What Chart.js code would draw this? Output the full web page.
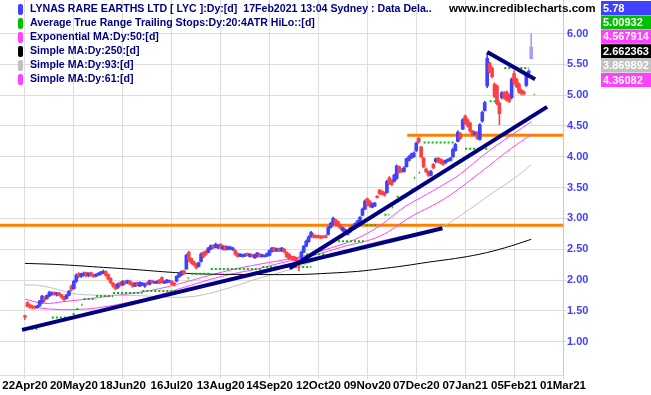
<!DOCTYPE html>
<html lang="en">

<head>
    <meta charset="UTF-8" />
    <script src="https://cdn.jsdelivr.net/npm/chart.js@4.4.0/dist/chart.umd.min.js"></script>
    <style>
        body { margin: 0; background: #fff; overflow: hidden; }
    </style>
</head>

<body>
    <canvas id="chart" width="651" height="395"></canvas>
    <script>
        // x axis: one step per trading day, day 0 = 22Apr20
        const tickIdx = [0, 20, 40, 60, 80, 100, 120, 140, 160, 180, 200, 220];
        const tickLabels = ['22Apr20', '20May20', '18Jun20', '16Jul20', '13Aug20', '14Sep20',
            '12Oct20', '09Nov20', '07Dec20', '07Jan21', '05Feb21', '01Mar21'];
        const yTicks = [1.0, 1.5, 2.0, 2.5, 3.0, 3.5, 4.0, 4.5, 5.0, 5.5, 6.0];

        // daily prices (LYC)
        const opens = [
            1.42, 1.63, 1.60, 1.58, 1.57, 1.55, 1.58, 1.64, 1.72, 1.70,
            1.74, 1.77, 1.80, 1.76, 1.79, 1.76, 1.73, 1.70, 1.75, 1.90,
            1.86, 1.98, 2.10, 2.06, 2.08, 2.12, 2.07, 2.12, 2.09, 2.06,
            2.08, 2.10, 2.11, 2.14, 2.09, 2.03, 1.95, 1.92, 1.88, 1.96,
            1.92, 1.98, 1.95, 1.98, 1.95, 1.90, 1.96, 1.90, 1.92, 1.90,
            1.96, 1.93, 1.99, 1.95, 1.95, 2.00, 2.04, 1.95, 1.96, 1.97,
            1.98, 1.95, 1.98, 2.05, 2.08, 2.15, 2.18, 2.45, 2.35, 2.30,
            2.26, 2.22, 2.30, 2.45, 2.47, 2.45, 2.50, 2.56, 2.53, 2.52,
            2.58, 2.50, 2.55, 2.50, 2.50, 2.49, 2.48, 2.43, 2.39, 2.38,
            2.39, 2.43, 2.38, 2.41, 2.36, 2.38, 2.42, 2.38, 2.38, 2.39,
            2.40, 2.46, 2.52, 2.47, 2.51, 2.47, 2.50, 2.45, 2.42, 2.38,
            2.38, 2.36, 2.30, 2.36, 2.45, 2.55, 2.62, 2.70, 2.73, 2.72,
            2.72, 2.71, 2.71, 2.72, 2.74, 2.85, 2.90, 2.98, 2.95, 2.90,
            2.80, 2.78, 2.74, 2.78, 2.84, 2.87, 2.90, 2.95, 3.05, 3.15,
            3.32, 3.28, 3.18, 3.20, 3.36, 3.46, 3.44, 3.42, 3.42, 3.66,
            3.62, 3.60, 3.65, 3.84, 3.80, 3.76, 3.84, 3.94, 3.98, 4.00,
            4.10, 4.30, 4.16, 3.98, 3.80, 3.76, 3.70, 3.88, 3.92, 3.98,
            3.96, 3.94, 3.90, 3.93, 3.94, 4.00, 4.10, 4.25, 4.38, 4.45,
            4.66, 4.60, 4.55, 4.42, 4.36, 4.40, 4.28, 4.58, 4.75, 5.15,
            5.52, 5.44, 5.18, 5.15, 4.87, 4.96, 5.04, 5.05, 5.00, 4.96,
            5.35, 5.26, 5.18, 5.08, 5.05, 5.16, 5.36, 5.59
        ];
        const highs = [
            1.43, 1.65, 1.61, 1.59, 1.58, 1.59, 1.67, 1.75, 1.73, 1.76,
            1.82, 1.81, 1.81, 1.80, 1.80, 1.77, 1.74, 1.77, 1.83, 1.92,
            2.00, 2.10, 2.12, 2.11, 2.13, 2.13, 2.12, 2.13, 2.10, 2.10,
            2.12, 2.14, 2.16, 2.15, 2.10, 2.04, 1.96, 1.93, 1.95, 1.97,
            1.99, 1.99, 2.00, 1.99, 1.96, 1.96, 1.97, 1.97, 1.96, 1.95,
            1.97, 2.00, 2.00, 1.98, 1.99, 2.01, 2.05, 1.99, 2.01, 2.00,
            1.99, 1.96, 2.07, 2.11, 2.15, 2.16, 2.42, 2.47, 2.36, 2.31,
            2.27, 2.29, 2.44, 2.46, 2.48, 2.53, 2.57, 2.57, 2.60, 2.58,
            2.59, 2.56, 2.56, 2.55, 2.55, 2.53, 2.49, 2.44, 2.43, 2.42,
            2.43, 2.44, 2.43, 2.42, 2.42, 2.45, 2.43, 2.42, 2.41, 2.44,
            2.49, 2.53, 2.53, 2.52, 2.52, 2.53, 2.51, 2.46, 2.43, 2.39,
            2.39, 2.37, 2.31, 2.47, 2.56, 2.65, 2.72, 2.79, 2.75, 2.73,
            2.73, 2.72, 2.72, 2.73, 2.87, 2.94, 3.02, 2.99, 2.96, 2.91,
            2.86, 2.83, 2.81, 2.86, 2.89, 2.93, 2.97, 3.03, 3.17, 3.30,
            3.33, 3.29, 3.25, 3.26, 3.37, 3.47, 3.45, 3.43, 3.62, 3.68,
            3.63, 3.72, 3.87, 3.85, 3.81, 3.84, 3.98, 4.02, 4.06, 4.08,
            4.24, 4.32, 4.17, 3.99, 3.82, 3.77, 3.78, 3.89, 3.98, 3.99,
            3.97, 3.95, 3.95, 3.97, 3.99, 4.14, 4.22, 4.42, 4.39, 4.62,
            4.68, 4.62, 4.56, 4.43, 4.41, 4.41, 4.54, 4.74, 4.90, 5.68,
            5.54, 5.46, 5.20, 5.17, 4.89, 5.06, 5.06, 5.07, 5.02, 5.28,
            5.40, 5.28, 5.20, 5.10, 5.07, 5.34, 5.41, 6.00
        ];
        const lows = [
            1.36, 1.56, 1.54, 1.53, 1.53, 1.54, 1.57, 1.62, 1.64, 1.69,
            1.73, 1.75, 1.75, 1.74, 1.74, 1.70, 1.66, 1.69, 1.74, 1.82,
            1.85, 1.96, 2.04, 2.04, 2.06, 2.05, 2.05, 2.06, 2.04, 2.05,
            2.07, 2.08, 2.10, 2.06, 2.00, 1.94, 1.88, 1.84, 1.86, 1.90,
            1.91, 1.93, 1.94, 1.92, 1.88, 1.89, 1.90, 1.89, 1.91, 1.88,
            1.92, 1.92, 1.95, 1.94, 1.94, 1.94, 1.95, 1.94, 1.95, 1.96,
            1.92, 1.90, 1.97, 2.04, 2.07, 2.09, 2.17, 2.30, 2.26, 2.23,
            2.18, 2.21, 2.29, 2.36, 2.40, 2.44, 2.49, 2.51, 2.52, 2.51,
            2.50, 2.49, 2.48, 2.49, 2.49, 2.48, 2.40, 2.37, 2.38, 2.37,
            2.38, 2.39, 2.37, 2.37, 2.35, 2.37, 2.37, 2.37, 2.37, 2.38,
            2.39, 2.45, 2.46, 2.46, 2.46, 2.46, 2.44, 2.36, 2.33, 2.33,
            2.31, 2.20, 2.15, 2.35, 2.44, 2.54, 2.61, 2.69, 2.68, 2.68,
            2.68, 2.67, 2.68, 2.68, 2.73, 2.84, 2.89, 2.88, 2.86, 2.82,
            2.78, 2.76, 2.73, 2.77, 2.83, 2.86, 2.89, 2.94, 3.04, 3.14,
            3.20, 3.18, 3.17, 3.19, 3.33, 3.39, 3.38, 3.36, 3.41, 3.55,
            3.53, 3.59, 3.63, 3.74, 3.74, 3.75, 3.83, 3.93, 3.97, 3.99,
            4.08, 4.22, 3.98, 3.82, 3.74, 3.68, 3.69, 3.80, 3.90, 3.90,
            3.88, 3.86, 3.89, 3.92, 3.93, 3.99, 4.09, 4.24, 4.28, 4.44,
            4.53, 4.48, 4.40, 4.34, 4.35, 4.28, 4.27, 4.56, 4.74, 5.12,
            5.36, 5.28, 4.96, 4.84, 4.52, 4.94, 4.93, 4.90, 4.88, 4.94,
            5.18, 5.12, 5.03, 5.00, 5.00, 5.14, 5.34, 5.59
        ];
        const closes = [
            1.40, 1.58, 1.56, 1.55, 1.55, 1.58, 1.66, 1.74, 1.68, 1.75,
            1.80, 1.80, 1.77, 1.79, 1.75, 1.72, 1.68, 1.76, 1.82, 1.84,
            1.98, 2.08, 2.06, 2.10, 2.11, 2.07, 2.11, 2.08, 2.06, 2.09,
            2.11, 2.13, 2.14, 2.08, 2.02, 1.96, 1.90, 1.86, 1.94, 1.92,
            1.98, 1.95, 1.99, 1.93, 1.90, 1.95, 1.92, 1.96, 1.95, 1.94,
            1.93, 1.99, 1.96, 1.97, 1.98, 1.95, 1.96, 1.98, 2.00, 1.99,
            1.93, 1.92, 2.06, 2.10, 2.14, 2.10, 2.40, 2.32, 2.28, 2.25,
            2.20, 2.28, 2.42, 2.38, 2.42, 2.52, 2.56, 2.52, 2.58, 2.56,
            2.52, 2.55, 2.49, 2.54, 2.53, 2.52, 2.42, 2.38, 2.42, 2.41,
            2.42, 2.40, 2.42, 2.38, 2.41, 2.44, 2.38, 2.41, 2.40, 2.43,
            2.48, 2.52, 2.47, 2.51, 2.47, 2.52, 2.46, 2.38, 2.35, 2.35,
            2.33, 2.28, 2.25, 2.45, 2.55, 2.63, 2.70, 2.77, 2.70, 2.69,
            2.69, 2.68, 2.70, 2.69, 2.85, 2.92, 3.00, 2.90, 2.88, 2.84,
            2.85, 2.82, 2.80, 2.85, 2.88, 2.92, 2.96, 3.02, 3.15, 3.28,
            3.22, 3.20, 3.24, 3.25, 3.34, 3.40, 3.39, 3.38, 3.60, 3.57,
            3.55, 3.70, 3.85, 3.75, 3.76, 3.82, 3.97, 4.00, 4.04, 4.06,
            4.22, 4.24, 4.00, 3.84, 3.76, 3.70, 3.76, 3.82, 3.97, 3.92,
            3.90, 3.88, 3.94, 3.96, 3.98, 4.12, 4.20, 4.40, 4.30, 4.60,
            4.55, 4.50, 4.42, 4.36, 4.40, 4.30, 4.52, 4.72, 4.88, 5.60,
            5.38, 5.30, 4.98, 4.86, 4.70, 5.04, 4.95, 4.92, 4.90, 5.26,
            5.20, 5.14, 5.05, 5.03, 5.02, 5.32, 5.39, 5.78
        ];

        // indicator lines, read at sample days
        const ema50Idx = [0, 8, 16, 25, 35, 45, 55, 65, 75, 85, 95, 105, 115, 125, 135, 145, 155, 162, 170, 178, 186, 193, 200, 207];
        const ema50 = [1.69, 1.62, 1.65, 1.69, 1.74, 1.79, 1.86, 1.96, 2.07, 2.17, 2.25, 2.32, 2.40, 2.52, 2.66, 2.88, 3.18, 3.34, 3.52, 3.72, 3.98, 4.19, 4.38, 4.57];
        const sma61Idx = [0, 10, 20, 30, 45, 55, 65, 75, 85, 95, 105, 117, 131, 145, 158, 172, 186, 199, 207];
        const sma61 = [1.58, 1.53, 1.52, 1.55, 1.66, 1.76, 1.88, 2.00, 2.10, 2.18, 2.28, 2.39, 2.55, 2.71, 3.03, 3.33, 3.74, 4.14, 4.36];
        const sma93Idx = [0, 6, 14, 18, 25, 40, 50, 60, 68, 75, 85, 95, 105, 112, 125, 140, 155, 170, 180, 190, 200, 207];
        const sma93 = [1.92, 1.91, 1.84, 1.79, 1.76, 1.75, 1.74, 1.72, 1.73, 1.78, 1.89, 2.02, 2.13, 2.22, 2.40, 2.58, 2.72, 2.86, 3.10, 3.38, 3.65, 3.87];
        const sma250Idx = [0, 14, 30, 45, 58, 71, 92, 112, 124, 136, 145, 155, 165, 176, 186, 196, 207];
        const sma250 = [2.27, 2.25, 2.21, 2.17, 2.13, 2.10, 2.09, 2.09, 2.11, 2.14, 2.18, 2.23, 2.29, 2.35, 2.42, 2.52, 2.66];

        // ATR trailing stop steps: start day, end day, level
        const atrFrom = [1, 11, 19.5, 21, 23, 24, 29, 36, 48, 66.5, 68, 76, 97, 115, 128, 139.5, 147, 150, 152, 158, 159, 161, 163, 180, 190, 196, 208];
        const atrTo = [6, 19, 20.5, 22, 23.5, 29, 36, 48, 66, 67, 76, 97, 117, 123, 139, 144, 149, 150.5, 156, 158.5, 159.5, 161.5, 176, 189, 194, 206, 208.4];
        const atrLevel = [1.21, 1.39, 1.45, 1.53, 1.60, 1.69, 1.74, 1.79, 1.82, 2.03, 2.10, 2.18, 2.21, 2.42, 2.63, 2.89, 3.06, 3.18, 3.35, 3.47, 3.66, 3.74, 4.23, 4.13, 4.90, 5.44, 5.01];

        // drawn trend lines and support levels
        const lowerTrend = [[-1.2, 1.19], [170.7, 2.84]];
        const steepTrend = [[108.2, 2.19], [213.5, 4.81]];
        const topTrend = [[189, 5.70], [208.6, 5.26]];
        const levelPrice = [2.89, 4.35];
        const levelFrom = [-10.2, 156.3];

        const legendLabels = [
            'LYNAS RARE EARTHS LTD [ LYC ]:Dy:[d]  17Feb2021 13:04 Sydney : Data Dela..',
            'Average True Range Trailing Stops:Dy:20:4ATR HiLo::[d]',
            'Exponential MA:Dy:50:[d]',
            'Simple MA:Dy:250:[d]',
            'Simple MA:Dy:93:[d]',
            'Simple MA:Dy:61:[d]'
        ];
        const legendColors = ['#4040FF', '#00C000', '#FF40FF', '#000000', '#C0C0C0', '#FF40FF'];
        const lastValues = ['5.78', '5.00932', '4.567914', '2.662363', '3.869892', '4.36082'];

        const UP = '#4040FF', DOWN = '#FF4040', LIVE = '#A0A0FF';
        const last = closes.length - 1;
        function candleColor(i) {
            if (i === last) return LIVE;
            return closes[i] >= opens[i] ? UP : DOWN;
        }

        const bodies = closes.map((c, i) => ({ x: i, y: [opens[i], c] }));
        const wicks = closes.map((c, i) => ({ x: i, y: [lows[i], highs[i]] }));
        const pts = (xs, ys) => xs.map((x, i) => ({ x: x, y: ys[i] }));
        const seg = s => s.map(p => ({ x: p[0], y: p[1] }));

        const atrPts = [];
        atrFrom.forEach((f, k) => {
            atrPts.push({ x: f, y: atrLevel[k] });
            atrPts.push({ x: atrTo[k], y: atrLevel[k] });
            atrPts.push({ x: atrTo[k] + 0.2, y: null });
        });

        function lineDs(data, color, width, order, extra) {
            return Object.assign({
                type: 'line', data: data, borderColor: color, borderWidth: width,
                pointRadius: 0, fill: false, order: order, spanGaps: false
            }, extra || {});
        }

        const datasets = [
            lineDs(seg([[levelFrom[0], levelPrice[0]], [230, levelPrice[0]]]), '#FF8000', 3, 9),
            lineDs(seg([[levelFrom[1], levelPrice[1]], [230, levelPrice[1]]]), '#FF8000', 3, 9),
            lineDs(pts(sma250Idx, sma250), '#000000', 1, 8, { tension: 0.4 }),
            lineDs(pts(sma93Idx, sma93), '#C0C0C0', 1, 8, { tension: 0.4 }),
            lineDs(pts(sma61Idx, sma61), '#FF40FF', 1, 8, { tension: 0.4 }),
            lineDs(pts(ema50Idx, ema50), '#FF40FF', 1, 8, { tension: 0.4 }),
            lineDs(atrPts, '#00C000', 2, 7, { borderDash: [2, 2] }),
            {
                type: 'bar', data: wicks, grouped: false, barThickness: 1, order: 5,
                backgroundColor: ctx => candleColor(ctx.dataIndex)
            },
            {
                type: 'bar', data: bodies, grouped: false, barThickness: 3, minBarLength: 1, order: 4,
                backgroundColor: ctx => candleColor(ctx.dataIndex)
            },
            lineDs(seg(lowerTrend), '#000080', 4, 1),
            lineDs(seg(steepTrend), '#000080', 4, 1),
            lineDs(seg(topTrend), '#000080', 4, 1)
        ];

        const overlay = {
            id: 'overlay',
            afterDraw(chart) {
                const ctx = chart.ctx;
                ctx.save();
                ctx.textBaseline = 'middle';
                ctx.textAlign = 'left';
                // legend
                ctx.font = 'bold 10.6px "Liberation Sans", Arial, sans-serif';
                legendLabels.forEach((t, k) => {
                    const y = 9.5 + k * 14;
                    ctx.fillStyle = legendColors[k];
                    ctx.beginPath();
                    ctx.roundRect(18, y - 5.5, 5, 11, 2);
                    ctx.fill();
                    ctx.fillStyle = '#000080';
                    ctx.fillText(t, 30, y);
                });
                // site mark
                ctx.font = 'bold 11.6px "Liberation Sans", Arial, sans-serif';
                ctx.fillStyle = '#000000';
                ctx.fillText('www.incrediblecharts.com', 449, 9);
                // last values
                ctx.font = 'bold 11px "Liberation Sans", Arial, sans-serif';
                lastValues.forEach((t, k) => {
                    const y = 1 + k * 14.4;
                    ctx.fillStyle = legendColors[k];
                    ctx.fillRect(601, y, 50, 14);
                    ctx.fillStyle = '#FFFFFF';
                    ctx.fillText(t, 603, y + 7.5);
                });
                ctx.restore();
            }
        };

        const ctx = document.getElementById('chart').getContext('2d');
        new Chart(ctx, {
            type: 'bar',
            data: { datasets: datasets },
            plugins: [overlay],
            options: {
                responsive: false,
                animation: false,
                layout: { padding: 0 },
                plugins: { legend: { display: false }, tooltip: { enabled: false } },
                scales: {
                    x: {
                        type: 'linear', min: -10.2, max: 220, offset: false,
                        grid: { color: '#DDDDDD', offset: false, tickLength: 4 },
                        border: { display: true, color: '#DDDDDD' },
                        afterBuildTicks: s => { s.ticks = tickIdx.map(v => ({ value: v })); },
                        afterFit: s => { s.height = 20; s.paddingLeft = 0; s.paddingRight = 0; },
                        ticks: {
                            autoSkip: false, maxRotation: 0, padding: 0, color: '#000000',
                            font: { family: '"Liberation Sans", Arial, sans-serif', size: 11.5, weight: 'bold' },
                            callback: (v, i) => tickLabels[i]
                        }
                    },
                    y: {
                        type: 'linear', position: 'right', min: 0.458, max: 6.545,
                        grid: { color: '#DDDDDD', tickLength: 4 },
                        border: { display: true, color: '#C8C8C8' },
                        afterBuildTicks: s => { s.ticks = yTicks.map(v => ({ value: v })); },
                        afterFit: s => { s.width = 88; s.paddingTop = 0; s.paddingBottom = 0; },
                        ticks: {
                            padding: 0, color: '#4040FF',
                            font: { family: '"Liberation Sans", Arial, sans-serif', size: 11, weight: 'bold' },
                            callback: v => v.toFixed(2)
                        }
                    }
                }
            }
        });
    </script>
</body>

</html>
